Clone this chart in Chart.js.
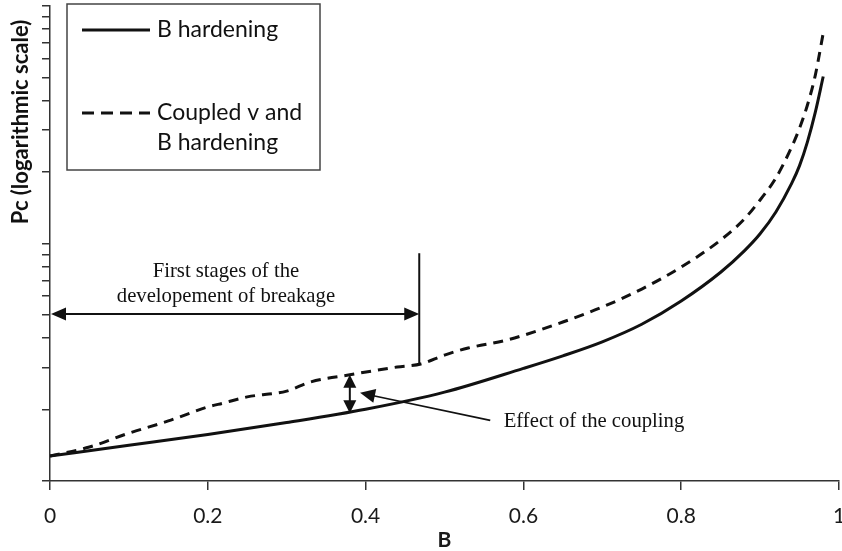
<!DOCTYPE html>
<html>
<head>
<meta charset="utf-8">
<script src="https://cdn.jsdelivr.net/npm/chart.js@4.4.1/dist/chart.umd.min.js"></script>
<style>
  html, body { margin: 0; padding: 0; background: #fff; }
  #wrap { width: 842px; height: 551px; }
</style>
</head>
<body>
<div id="wrap"><canvas id="chart"></canvas></div>
<script>
// B hardening only (solid)
const bHardB  = [0, 0.1, 0.2, 0.3, 0.4, 0.5, 0.6, 0.65, 0.7, 0.75, 0.8, 0.85, 0.88, 0.9, 0.92, 0.94, 0.95, 0.96, 0.97, 0.98];
const bHardPc = [1.274, 1.413, 1.57, 1.762, 2.004, 2.366, 2.979, 3.365, 3.855, 4.571, 5.728, 7.568, 9.311, 10.99, 13.58, 17.91, 21.28, 26.79, 35.73, 50.47];

// coupled v and B hardening (dashed)
const coupledB  = [0, 0.05, 0.1, 0.15, 0.2, 0.22, 0.25, 0.3, 0.33, 0.38, 0.44, 0.47, 0.5, 0.53, 0.58, 0.65, 0.7, 0.75, 0.8, 0.85, 0.88, 0.9, 0.92, 0.94, 0.95, 0.96, 0.97, 0.98];
const coupledPc = [1.274, 1.39, 1.59, 1.79, 2.05, 2.13, 2.26, 2.39, 2.61, 2.8, 3.02, 3.11, 3.39, 3.63, 3.93, 4.67, 5.4, 6.43, 7.96, 10.34, 12.68, 15.25, 18.87, 25.5, 30.6, 38.3, 51.2, 76.9];

const seriesNames = ['B hardening', 'Coupled v and B hardening'];
const xTicks = [0, 0.2, 0.4, 0.6, 0.8, 1];
const yTicks = [1, 2, 3, 4, 5, 6, 7, 8, 9, 10, 20, 30, 40, 50, 60, 70, 80, 90, 100];

const pts = (xs, ys) => xs.map((b, i) => ({ x: b, y: ys[i] }));
const ink = '#111';
const axisGrey = '#333';

function arrowHead(ctx, tx, ty, angle, len, half) {
    ctx.beginPath();
    ctx.moveTo(tx, ty);
    ctx.lineTo(tx - len * Math.cos(angle) + half * Math.sin(angle), ty - len * Math.sin(angle) - half * Math.cos(angle));
    ctx.lineTo(tx - len * Math.cos(angle) - half * Math.sin(angle), ty - len * Math.sin(angle) + half * Math.cos(angle));
    ctx.closePath();
    ctx.fill();
}

// legend box, y title and the hand-drawn notes
const overlay = {
    id: 'overlay',
    afterDraw(chart) {
        const { ctx, chartArea, scales: { x, y } } = chart;
        const px = b => x.getPixelForValue(b);
        const py = v => y.getPixelForValue(v);
        ctx.save();
        ctx.fillStyle = ink;
        ctx.strokeStyle = ink;

        // y title
        ctx.save();
        ctx.translate(21, 122);
        ctx.rotate(-Math.PI / 2);
        ctx.font = "bold 22px Lato";
        ctx.textAlign = 'center';
        ctx.textBaseline = 'middle';
        ctx.fillText('Pc (logarithmic scale)', 0, 0);
        ctx.restore();

        // legend
        const lx = chartArea.left + 17, ly = 4;
        ctx.lineWidth = 1.5;
        ctx.strokeStyle = '#444';
        ctx.strokeRect(lx, ly, 253, 166);
        ctx.strokeStyle = ink;
        ctx.lineWidth = 3;
        ctx.beginPath();
        ctx.moveTo(lx + 15, ly + 26); ctx.lineTo(lx + 83, ly + 26);
        ctx.stroke();
        ctx.setLineDash([12, 7]);
        ctx.beginPath();
        ctx.moveTo(lx + 15, ly + 109); ctx.lineTo(lx + 83, ly + 109);
        ctx.stroke();
        ctx.setLineDash([]);
        ctx.font = "23px Lato";
        ctx.textAlign = 'left';
        ctx.textBaseline = 'middle';
        ctx.fillText(seriesNames[0], lx + 90, ly + 26);
        ctx.fillText('Coupled v and', lx + 90, ly + 109);
        ctx.fillText('B hardening', lx + 90, ly + 139);

        // first stages span
        ctx.lineWidth = 2;
        const spanY = py(5.05), x0 = px(0), x1 = px(0.468);
        ctx.beginPath();
        ctx.moveTo(x0 + 8, spanY); ctx.lineTo(x1 - 8, spanY);
        ctx.stroke();
        arrowHead(ctx, x0 + 1, spanY, Math.PI, 15, 6.5);
        arrowHead(ctx, x1, spanY, 0, 15, 6.5);
        ctx.beginPath();
        ctx.moveTo(x1, py(9.1)); ctx.lineTo(x1, py(3.1));
        ctx.stroke();
        ctx.font = "20.7px 'Liberation Serif'";
        ctx.textAlign = 'center';
        ctx.textBaseline = 'alphabetic';
        ctx.fillText('First stages of the', px(0.223), py(7.22));
        ctx.fillText('developement of breakage', px(0.223), py(5.67));

        // coupling gap arrow
        const cx = px(0.38), top = py(2.8), bot = py(1.93);
        ctx.beginPath();
        ctx.moveTo(cx, top + 8); ctx.lineTo(cx, bot - 8);
        ctx.stroke();
        arrowHead(ctx, cx, top, -Math.PI / 2, 13, 6.5);
        arrowHead(ctx, cx, bot, Math.PI / 2, 13, 6.5);

        // pointer to the gap
        const ax = px(0.393), ay = py(2.35), bx = px(0.558), by = py(1.8);
        const ang = Math.atan2(ay - by, ax - bx);
        ctx.lineWidth = 1.6;
        ctx.beginPath();
        ctx.moveTo(bx, by); ctx.lineTo(ax - 10 * Math.cos(ang), ay - 10 * Math.sin(ang));
        ctx.stroke();
        arrowHead(ctx, ax, ay, ang, 15, 7);
        ctx.textAlign = 'left';
        ctx.fillText('Effect of the coupling', px(0.575), py(1.69));

        ctx.restore();
    }
};

new Chart(document.getElementById('chart'), {
    type: 'line',
    data: {
        datasets: [{
            label: seriesNames[0],
            data: pts(bHardB, bHardPc),
            borderColor: ink,
            borderWidth: 3,
            pointRadius: 0,
            cubicInterpolationMode: 'monotone'
        }, {
            label: seriesNames[1],
            data: pts(coupledB, coupledPc),
            borderColor: ink,
            borderWidth: 3,
            borderDash: [10, 7],
            pointRadius: 0,
            cubicInterpolationMode: 'monotone'
        }]
    },
    options: {
        responsive: true,
        maintainAspectRatio: false,
        animation: false,
        layout: { padding: { top: 6, right: 3, left: 0, bottom: 0 } },
        plugins: { legend: { display: false }, tooltip: { enabled: false } },
        scales: {
            x: {
                type: 'linear',
                min: 0, max: 1,
                afterBuildTicks: s => { s.ticks = xTicks.map(v => ({ value: v })); },
                afterFit: s => { s.height = 70; s.paddingLeft = 0; s.paddingRight = 0; },
                grid: { drawOnChartArea: false, drawTicks: true, tickLength: 9, color: axisGrey, lineWidth: 1.5 },
                border: { display: true, color: axisGrey, width: 1.5 },
                ticks: {
                    color: '#1a1a1a', font: { family: 'Lato', size: 21 }, padding: 14,
                    maxRotation: 0, autoSkip: false,
                    callback: v => String(v)
                },
                title: {
                    display: true, text: 'B', color: '#1a1a1a',
                    font: { family: 'Lato', size: 21, weight: 'bold', lineHeight: 1 },
                    padding: { top: 0, bottom: 0 }
                }
            },
            y: {
                type: 'logarithmic',
                min: 1, max: 100,
                afterBuildTicks: s => { s.ticks = yTicks.map(v => ({ value: v })); },
                afterFit: s => { s.width = 50; },
                grid: { drawOnChartArea: false, drawTicks: true, tickLength: 8, color: axisGrey, lineWidth: 1.5 },
                border: { display: true, color: axisGrey, width: 1.5 },
                ticks: { display: false }
            }
        }
    },
    plugins: [overlay]
});
</script>
</body>
</html>
